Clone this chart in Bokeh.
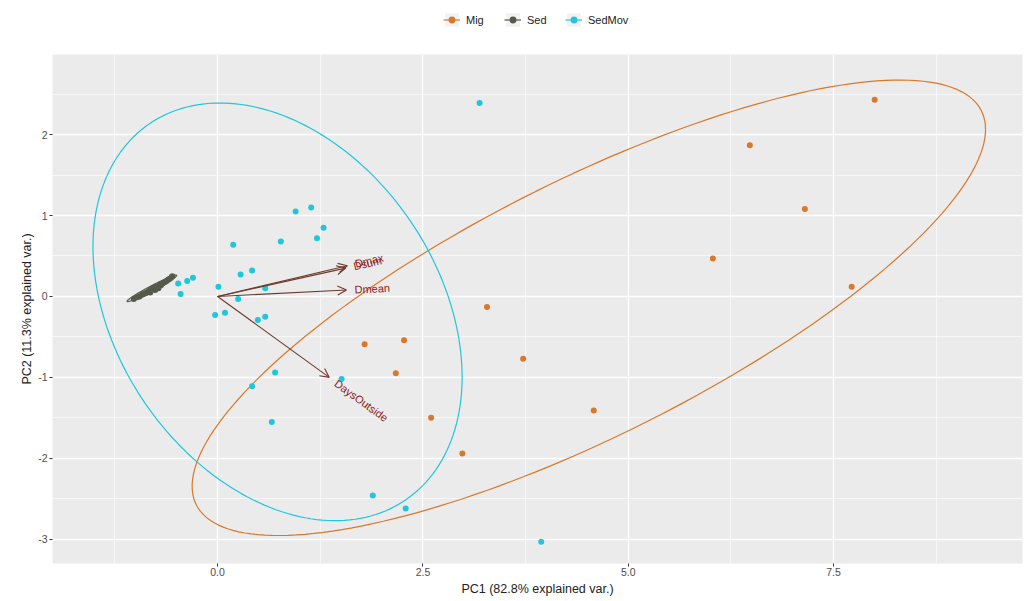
import numpy as np
from bokeh.plotting import figure
from bokeh.layouts import column
from bokeh.models import (ColumnDataSource, Range1d, FixedTicker, PrintfTickFormatter,
                          Legend, LegendItem, Arrow, OpenHead)
from bokeh.core.properties import value
from bokeh.embed import file_html
from bokeh.resources import INLINE

FONT = "Liberation Sans"

# ---------------- data ----------------
groups = ["Mig", "Sed", "SedMov"]
group_colors = ["#D9782A", "#555A4B", "#20C6DB"]

mig_pc1 = [8.00, 6.48, 7.15, 6.03, 7.72, 3.28, 1.79, 2.27, 2.17, 3.72, 2.60, 4.58, 2.98]
mig_pc2 = [2.43, 1.87, 1.08, 0.47, 0.12, -0.13, -0.59, -0.54, -0.95, -0.77, -1.50, -1.41, -1.94]

sed_pc1 = [-1.02, -0.98, -0.95, -0.92, -0.90, -0.88, -0.86, -0.84, -0.83, -0.81, -0.80, -0.78,
           -0.77, -0.75, -0.74, -0.72, -0.70, -0.69, -0.67, -0.66, -0.64, -0.62, -0.60, -0.58,
           -0.56, -0.55, -0.76, -0.72, -0.82]
sed_pc2 = [-0.03, -0.01, 0.00, 0.02, 0.03, 0.04, 0.05, 0.06, 0.07, 0.08, 0.09, 0.10,
           0.11, 0.12, 0.12, 0.13, 0.15, 0.14, 0.16, 0.17, 0.18, 0.19, 0.21, 0.22,
           0.24, 0.25, 0.08, 0.10, 0.05]

sedmov_pc1 = [3.19, 0.95, 1.14, 1.29, 1.21, 0.77, 0.19, 0.28, 0.42, 0.01, 0.58, 0.25, -0.48,
              -0.37, -0.30, -0.45, -0.03, 0.09, 0.49, 0.58, 0.70, 0.42, 1.51, 0.66, 1.89, 2.29, 3.94]
sedmov_pc2 = [2.39, 1.05, 1.10, 0.85, 0.72, 0.68, 0.64, 0.27, 0.32, 0.12, 0.10, -0.03, 0.16,
              0.19, 0.23, 0.03, -0.23, -0.20, -0.29, -0.25, -0.94, -1.11, -1.02, -1.55, -2.46, -2.62, -3.03]

# group ellipses: centre and shape matrix (data units)
ell_cx = [4.52, -0.80, 0.73]
ell_cy = [-0.14, 0.10, -0.19]
ell_sxx = [23.33, 0.0913, 5.05]
ell_syy = [7.92, 0.0267, 6.66]
ell_sxy = [10.65, 0.0482, -1.81]

var_names = ["Dmax", "Dsum", "Dmean", "DaysOutside"]
var_pc1 = [1.58, 1.56, 1.57, 1.36]
var_pc2 = [0.38, 0.35, 0.08, -1.00]

x_ticks = [0.0, 2.5, 5.0, 7.5]
x_minor = [-1.25, 1.25, 3.75, 6.25, 8.75]
y_ticks = [-3, -2, -1, 0, 1, 2]
y_minor = [-2.5, -1.5, -0.5, 0.5, 1.5, 2.5]

# ---------------- main figure ----------------
X0, X1 = -2.01, 9.80
Y0, Y1 = -3.30, 2.99
W, H = 1027, 601
LEG_H = 54
BL, BR, BB = 52, 5, 38
p = figure(width=W, height=H - LEG_H, output_backend="svg", toolbar_location=None,
           x_range=Range1d(X0, X1), y_range=Range1d(Y0, Y1),
           background_fill_color="#EBEBEB", border_fill_color="white",
           min_border_left=BL, min_border_right=BR, min_border_top=0, min_border_bottom=BB)
p.outline_line_color = None

for ax, maj, mnr in ((p.xaxis[0], x_ticks, x_minor), (p.yaxis[0], y_ticks, y_minor)):
    ax.ticker = FixedTicker(ticks=maj, minor_ticks=mnr)
    ax.axis_line_color = None
    ax.major_tick_line_color = "#333333"
    ax.major_tick_out = 3
    ax.major_tick_in = 0
    ax.minor_tick_line_color = None
    ax.major_label_text_font = FONT
    ax.major_label_text_font_size = "10.5px"
    ax.major_label_text_color = "#4D4D4D"
    ax.axis_label_text_font = FONT
    ax.axis_label_text_font_size = "12.5px"
    ax.axis_label_text_font_style = "normal"
    ax.axis_label_text_color = "#222222"
    ax.major_label_standoff = 1
    ax.axis_label_standoff = 1
p.xaxis[0].major_label_standoff = 0
p.xaxis[0].axis_label_standoff = 3
p.xaxis[0].formatter = PrintfTickFormatter(format="%.1f")
p.yaxis[0].formatter = PrintfTickFormatter(format="%d")
p.xaxis.axis_label = "PC1 (82.8% explained var.)"
p.yaxis.axis_label = "PC2 (11.3% explained var.)"

for g in (p.xgrid[0], p.ygrid[0]):
    g.grid_line_color = "white"
    g.grid_line_width = 1.3
    g.minor_grid_line_color = "white"
    g.minor_grid_line_width = 0.6

theta = np.linspace(0, 2 * np.pi, 200)
circle = np.column_stack([np.cos(theta), np.sin(theta)])
data = {"Mig": (mig_pc1, mig_pc2), "Sed": (sed_pc1, sed_pc2), "SedMov": (sedmov_pc1, sedmov_pc2)}
for i, (g, col) in enumerate(zip(groups, group_colors)):
    S = np.array([[ell_sxx[i], ell_sxy[i]], [ell_sxy[i], ell_syy[i]]])
    L = np.linalg.cholesky(S)
    ell = circle @ L.T + np.array([ell_cx[i], ell_cy[i]])
    p.line(ell[:, 0], ell[:, 1], line_color=col, line_width=1.2)
for g, col in zip(groups, group_colors):
    p.scatter(data[g][0], data[g][1], size=6, fill_color=col, line_color=None)

# ---------------- variable arrows ----------------
frame_w = W - BL - BR
frame_h = H - LEG_H - BB
sx = frame_w / (X1 - X0)
sy = frame_h / (Y1 - Y0)
vx, vy = np.array(var_pc1), np.array(var_pc2)
ang = np.arctan2(vy * sy, vx * sx)
off = 8.0
lab_x = vx + off * np.cos(ang) / sx
lab_y = vy + off * np.sin(ang) / sy

arr_src = ColumnDataSource(dict(x0=[0.0] * len(vx), y0=[0.0] * len(vx), x1=list(vx), y1=list(vy)))
p.add_layout(Arrow(source=arr_src, x_start="x0", y_start="y0", x_end="x1", y_end="y1",
                   line_color="#6E3B2E", line_width=1.1,
                   end=OpenHead(size=9, line_color="#6E3B2E", line_width=1.1)))

lab_src = ColumnDataSource(dict(x=list(lab_x), y=list(lab_y), t=var_names, a=list(ang)))
p.text(x="x", y="y", text="t", angle="a", source=lab_src, text_align="left",
       text_baseline="middle", text_color="#8B1A1A", text_font_size="11px",
       text_font=value(FONT))

# ---------------- legend strip above the panel ----------------
lg = figure(width=W, height=LEG_H, output_backend="svg", toolbar_location=None,
            x_range=Range1d(0, 1), y_range=Range1d(0, 1),
            min_border_left=0, min_border_right=0, min_border_top=0, min_border_bottom=0)
lg.axis.visible = False
lg.grid.visible = False
lg.outline_line_color = None
items = []
for g, col in zip(groups, group_colors):
    bg = lg.quad(left=[5], right=[6], bottom=[5], top=[6], fill_color="#F2F2F2", line_color=None)
    lr = lg.line([5, 6], [5, 6], line_color=col, line_width=1.2)
    sr = lg.scatter([5], [5], size=6, fill_color=col, line_color=None)
    items.append(LegendItem(label=g, renderers=[bg, lr, sr]))
legend = Legend(items=items, orientation="horizontal", location=(391, 26),
                glyph_width=17, glyph_height=17, label_text_font=FONT,
                label_text_font_size="11px", label_text_color="#222222",
                label_standoff=6, spacing=18, padding=4, margin=0,
                border_line_color=None, background_fill_alpha=0)
lg.add_layout(legend, "center")

layout = column(lg, p, spacing=0)
open("out.html", "w").write(file_html(layout, INLINE))
